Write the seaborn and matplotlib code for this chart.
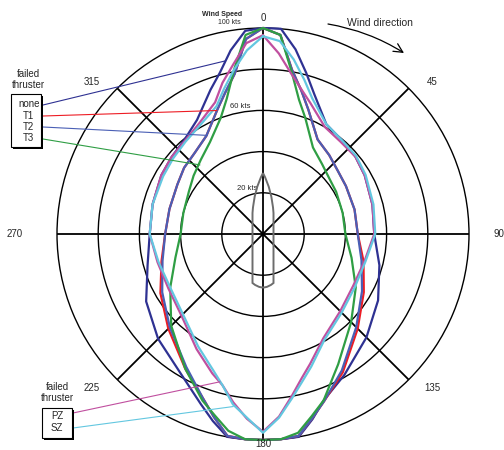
"""
DP wind capability plot: max wind speed vs wind direction for failed thrusters.
"""
import matplotlib
matplotlib.use("Agg")
import matplotlib.pyplot as plt
from matplotlib.patches import Rectangle, PathPatch
from matplotlib.path import Path
import numpy as np
import pandas as pd
import seaborn as sns

# ---------------------------------------------------------------------------
# Data (wind direction in degrees, wind speed in kts)
# ---------------------------------------------------------------------------
DIRECTIONS = [0, 5, 10, 15, 20, 30, 40, 50, 60, 75, 90, 105, 120, 135, 150,
              160, 165, 170, 175, 180, 185, 190, 195, 200, 210, 225, 240, 255,
              270, 285, 300, 310, 320, 330, 340, 345, 350, 355, 360]

NONE = [100, 100, 91, 81, 72.5, 61.5, 59.5, 58.5, 57, 55, 54, 58.5, 64.5, 71, 79,
        86, 93, 100, 100, 100, 100, 100, 94, 88, 79, 72, 65.5, 58,
        55, 55.5, 57, 58, 59.5, 64, 74.5, 81, 90.5, 99, 100]
T1 = [100, 97, 81, 72, 64.3, 53, 50, 47.5, 46.5, 46, 46, 50.5, 56.5, 65, 77.5,
      86.5, 92.5, 99.5, 100, 100, 100, 99.5, 92, 85, 75.5, 65, 57.5, 51,
      47.5, 47, 48, 50, 51.5, 55, 64.5, 71, 79, 95, 100]
T2 = [100, 97, 81, 72, 64.3, 53, 50, 47.5, 46.5, 46, 46, 49.5, 55.5, 64, 76.5,
      86.5, 92.5, 99.5, 100, 100, 100, 99.5, 92, 85, 74.5, 64, 56.5, 50.5,
      47.5, 47, 48, 50, 51.5, 55, 64.5, 71, 79, 95, 100]
T3 = [100, 97, 80, 67.5, 60, 48.5, 44.5, 42, 41, 40, 40, 44.5, 52, 60.5, 73,
      86, 91.5, 98, 100, 100, 100, 97, 91, 86, 75.5, 63, 52, 44,
      40, 40, 41.5, 44, 47, 51.5, 60, 68, 81, 97, 100]
PZ = [96.5, 88, 79, 72.5, 67.5, 60, 58.5, 58.5, 57, 55, 54, 51, 50.5, 53, 58.5,
      67, 72.5, 80, 89, 96, 90, 83, 76, 72, 64.5, 56, 53, 53,
      55, 55.5, 57, 58, 59, 62, 68, 76, 83.5, 93, 96.5]
SZ = [96, 94, 86, 77.5, 70, 61.5, 59.5, 59, 57.5, 55.5, 54.5, 51.5, 51.5, 54, 59.5,
      68.5, 74, 81, 89.5, 96.5, 89.5, 84, 76, 70.5, 63, 55, 52, 52.5,
      55, 55.5, 56, 57, 58.5, 61, 66, 73, 81, 89.5, 96]

SERIES = {"none": NONE, "T1": T1, "T2": T2, "T3": T3, "PZ": PZ, "SZ": SZ}
COLORS = {"none": "#2e3192", "T1": "#ed1c24", "T2": "#4a5fb5",
          "T3": "#2f9e44", "PZ": "#c04f9f", "SZ": "#63c7e0"}

ANGLE_LABELS = ["0", "45", "90", "135", "180", "225", "270", "315"]
RING_LABELS = ["20 kts", "60 kts", "100 kts"]

# ---------------------------------------------------------------------------
# Layout (pixels, image origin top-left)
# ---------------------------------------------------------------------------
W, H = 504, 450
CX, CY, R_PX = 263, 234, 206

ANGLE_LABEL_POS = [(263, 18, "center"), (432, 82, "center"), (493, 234, "left"),
                   (432, 388, "center"), (263, 444, "center"), (92, 388, "center"),
                   (23, 234, "right"), (92, 82, "center")]
RING_LABEL_POS = [(247, 189), (240, 106), (229, 23)]

# connector: legend side (px) -> point on the curve (deg, kts)
POINTERS = {"none": ((43, 105), (347.6, 86)),
            "T1": ((43, 116), (339.5, 64)),
            "T2": ((43, 127), (330.5, 55)),
            "T3": ((43, 139), (317.6, 45.4)),
            "PZ": ((73, 413), (196.2, 74.7)),
            "SZ": ((73, 428), (189.8, 85))}


def main():
    sns.set_style("white")
    plt.rcParams["font.family"] = ["Liberation Sans", "DejaVu Sans"]

    fig = plt.figure(figsize=(W / 100, H / 100), dpi=100)
    ax = fig.add_axes([(CX - R_PX) / W, (H - CY - R_PX) / H, 2 * R_PX / W, 2 * R_PX / H],
                      projection="polar")

    rows = []
    for name, values in SERIES.items():
        for d, v in zip(DIRECTIONS, values):
            rows.append({"theta": np.deg2rad(d), "speed": v, "thruster": name})
    df = pd.DataFrame(rows)

    sns.lineplot(data=df, x="theta", y="speed", hue="thruster",
                 hue_order=list(SERIES), palette=COLORS, sort=False,
                 estimator=None, lw=1.6, legend=False, ax=ax,
                 clip_on=False, zorder=3)

    ax.set_theta_zero_location("N")
    ax.set_theta_direction(-1)
    ax.set_ylim(0, 100)
    ax.set_xticks(np.deg2rad(np.arange(0, 360, 45)))
    ax.set_xticklabels([])
    ax.set_yticks([20, 40, 60, 80])
    ax.set_yticklabels([])
    ax.tick_params(length=0)
    ax.xaxis.grid(True, color="black", lw=1.3)
    ax.yaxis.grid(True, color="black", lw=1.0)
    ax.spines["polar"].set_color("black")
    ax.spines["polar"].set_linewidth(1.0)
    ax.set_xlabel("")
    ax.set_ylabel("")

    # overlay in image pixel coordinates for annotations
    ov = fig.add_axes([0, 0, 1, 1])
    ov.set_xlim(0, W)
    ov.set_ylim(H, 0)
    ov.axis("off")

    for label, (x, y, ha) in zip(ANGLE_LABELS, ANGLE_LABEL_POS):
        ov.text(x, y, label, ha=ha, va="center", fontsize=7)

    for label, (x, y) in zip(RING_LABELS, RING_LABEL_POS):
        ov.text(x, y, label, ha="center", va="center", fontsize=5.5 if label != "100 kts" else 5)
    ov.text(222, 15, "Wind Speed", ha="center", va="center", fontsize=5, fontweight="bold")

    # wind direction arrow
    ov.text(380, 23, "Wind direction", ha="center", va="center", fontsize=7.5)
    ov.annotate("", xy=(404, 53), xytext=(328, 24),
                arrowprops=dict(arrowstyle="->", color="black", lw=0.9,
                                connectionstyle="arc3,rad=-0.1",
                                shrinkA=0, shrinkB=0, mutation_scale=16))

    # ship outline
    verts = [(263, 173), (254, 190), (252.5, 213), (252.5, 283), (263, 292),
             (273.5, 283), (273.5, 213), (272, 190), (263, 173)]
    codes = [Path.MOVETO, Path.CURVE3, Path.CURVE3, Path.LINETO, Path.CURVE3,
             Path.CURVE3, Path.LINETO, Path.CURVE3, Path.CURVE3]
    ov.add_patch(PathPatch(Path(verts, codes), fc="none", ec="#6d6d6d", lw=1.4, zorder=4))

    # legend boxes
    for (x, y, w, h) in [(11, 94, 30, 53), (42, 408, 30, 30)]:
        ov.add_patch(Rectangle((x + 2, y + 2), w, h, fc="black", ec="none", zorder=5))
        ov.add_patch(Rectangle((x, y), w, h, fc="white", ec="black", lw=0.8, zorder=6))

    ov.text(28, 74, "failed", ha="center", va="center", fontsize=7)
    ov.text(28, 85, "thruster", ha="center", va="center", fontsize=7)
    ov.text(57, 387, "failed", ha="center", va="center", fontsize=7)
    ov.text(57, 398, "thruster", ha="center", va="center", fontsize=7)
    item_pos = {"none": (29, 104), "T1": (28, 116), "T2": (28, 127), "T3": (28, 138),
                "PZ": (57, 416), "SZ": (57, 428)}
    for name, (x, y) in item_pos.items():
        ov.text(x, y, name, ha="center", va="center", fontsize=7, zorder=7)

    for name, ((x0, y0), (deg, kts)) in POINTERS.items():
        ov.annotate("", xy=(np.deg2rad(deg), kts), xycoords=ax.transData,
                    xytext=(x0, y0), textcoords="data",
                    arrowprops=dict(arrowstyle="-", color=COLORS[name], lw=0.8,
                                    shrinkA=0, shrinkB=0))

    fig.savefig("out.png", dpi=100)
    plt.close(fig)


if __name__ == "__main__":
    main()
